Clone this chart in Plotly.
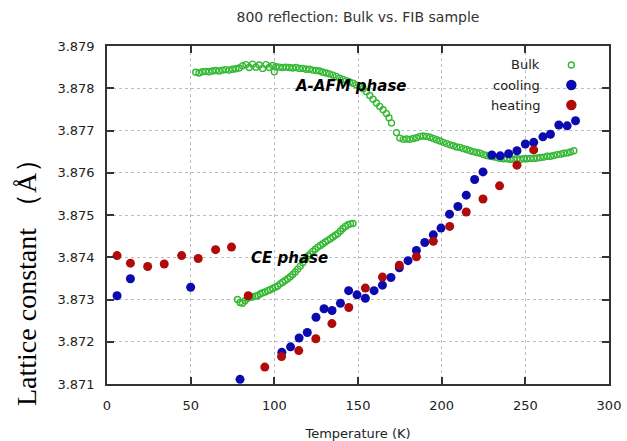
import plotly.graph_objects as go

# ---------------- data ----------------
bulk_T = [53, 55, 57, 59, 61, 63, 65, 67, 69, 71, 73, 75, 77, 79, 81, 83, 85, 87, 89, 91,
          93, 95, 97, 99, 100, 101, 103, 105, 107, 109, 111, 113, 115, 117, 119, 121, 123, 125,
          127, 129, 131, 133, 135, 137, 139, 141, 143, 145, 147, 149, 151, 153, 155, 157, 159,
          161, 163, 165, 167, 168.5, 170, 173, 175, 177, 179, 181, 183, 185, 187, 189, 191,
          193, 195, 197, 199, 201, 203, 205, 207, 209, 211, 213, 215, 217, 219, 221, 223, 225,
          227, 229, 231, 233, 235, 237, 239, 241, 243, 245, 247, 249, 251, 253, 255, 257, 259,
          261, 263, 265, 267, 269, 271, 273, 275, 277, 279]
bulk_V = [3.87838, 3.87836, 3.87839, 3.87840, 3.87839, 3.87841, 3.87842, 3.87841, 3.87843, 3.87844,
          3.87843, 3.87845, 3.87846, 3.87848, 3.87853, 3.87856, 3.87849, 3.87857, 3.87850, 3.87855,
          3.87847, 3.87856, 3.87849, 3.87854, 3.87839, 3.87851, 3.87850, 3.87849, 3.87850, 3.87849,
          3.87848, 3.87849, 3.87847, 3.87847, 3.87845, 3.87845, 3.87843, 3.87842, 3.87841, 3.87838,
          3.87836, 3.87834, 3.87831, 3.87828, 3.87824, 3.87821, 3.87818, 3.87815, 3.87812, 3.87808,
          3.87804, 3.87799, 3.87792, 3.87783, 3.87774, 3.87765, 3.87757, 3.87749, 3.87740, 3.87730,
          3.87718, 3.87695, 3.87682, 3.87679, 3.87680, 3.87679, 3.87681, 3.87683, 3.87686, 3.87687,
          3.87686, 3.87684, 3.87681, 3.87678, 3.87675, 3.87672, 3.87669, 3.87666, 3.87664, 3.87661,
          3.87660, 3.87657, 3.87655, 3.87652, 3.87650, 3.87648, 3.87646, 3.87643, 3.87641, 3.87639,
          3.87638, 3.87636, 3.87634, 3.87633, 3.87633, 3.87632, 3.87632, 3.87633, 3.87632, 3.87633,
          3.87633, 3.87634, 3.87634, 3.87635, 3.87636, 3.87637, 3.87639, 3.87639, 3.87641, 3.87643,
          3.87644, 3.87646, 3.87647, 3.87649, 3.87652]

ce_T = [78, 79.5, 81, 82.5, 84, 85.5, 87, 88.5, 90, 91.5, 93, 94.5, 96, 97.5, 99, 100.5, 102,
        103.5, 105, 106.5, 108, 109.5, 111, 112.5, 114, 115.5, 117, 118.5, 120, 121.5, 123,
        124.5, 126, 127.5, 129, 130.5, 132, 133.5, 135, 136.5, 138, 139.5, 141, 142.5, 144,
        145.5, 147]
ce_V = [3.87300, 3.87293, 3.87291, 3.87297, 3.87303, 3.87306, 3.87306, 3.87308, 3.87309, 3.87313,
        3.87316, 3.87318, 3.87321, 3.87323, 3.87326, 3.87329, 3.87332, 3.87337, 3.87341, 3.87345,
        3.87349, 3.87354, 3.87359, 3.87365, 3.87372, 3.87379, 3.87387, 3.87395, 3.87403, 3.87408,
        3.87414, 3.87419, 3.87424, 3.87428, 3.87432, 3.87436, 3.87440, 3.87444, 3.87448, 3.87452,
        3.87456, 3.87462, 3.87468, 3.87473, 3.87477, 3.87479, 3.87480]

cool_T = [6, 14, 50, 79.5, 104.5, 109.7, 114.8, 119.7, 124.9, 129.7, 134.5, 139.5, 144.4, 149.4,
          154.4, 159.6, 164.6, 169.7, 174.7, 179.9, 184.9, 189.9, 195, 199.6, 204.7, 209.7, 214.7,
          219.7, 224.7, 230, 235, 240, 245, 250, 255, 260.5, 265, 270, 275, 280]
cool_V = [3.87309, 3.87349, 3.87329, 3.87111, 3.87175, 3.87188, 3.87209, 3.87222, 3.87258, 3.87278,
          3.87274, 3.87291, 3.87321, 3.87311, 3.87303, 3.87321, 3.87334, 3.87352, 3.87375, 3.87392,
          3.87416, 3.87435, 3.87453, 3.87469, 3.87502, 3.87520, 3.87547, 3.87584, 3.87602, 3.87642,
          3.87640, 3.87645, 3.87652, 3.87668, 3.87672, 3.87685, 3.87691, 3.87713, 3.87711, 3.87723]

heat_T = [6, 14, 24.3, 34.2, 44.6, 54.5, 64.9, 74.4, 84.4, 94.3, 104.3, 114.6, 124.8, 134.4,
          144.5, 154.4, 164.6, 174.7, 184.9, 195, 204.8, 214.7, 224.7, 234.6, 245, 255]
heat_V = [3.87404, 3.87386, 3.87378, 3.87384, 3.87404, 3.87397, 3.87418, 3.87424, 3.87309, 3.87140,
          3.87165, 3.87179, 3.87207, 3.87243, 3.87281, 3.87327, 3.87353, 3.87381, 3.87401, 3.87438,
          3.87473, 3.87507, 3.87538, 3.87569, 3.87618, 3.87654]

series_names = ["Bulk", "cooling", "heating"]
x_ticks = [0, 50, 100, 150, 200, 250, 300]
y_ticks = [3.871, 3.872, 3.873, 3.874, 3.875, 3.876, 3.877, 3.878, 3.879]

# ---------------- style ----------------
GREEN = "#35b835"
BLUE = "#0a0ab0"
RED = "#b00a0a"
AX = "#333333"
TXT = "#222222"
FONT = "DejaVu Sans"

fig = go.Figure()
bulk_style = dict(mode="markers", showlegend=False,
                  marker=dict(symbol="circle-open", size=6, color=GREEN, line=dict(width=1.4, color=GREEN)))
fig.add_trace(go.Scatter(x=bulk_T, y=bulk_V, name=series_names[0], **bulk_style))
fig.add_trace(go.Scatter(x=ce_T, y=ce_V, name=series_names[0], **bulk_style))
fig.add_trace(go.Scatter(x=cool_T, y=cool_V, name=series_names[1], mode="markers", showlegend=False,
                         marker=dict(symbol="circle", size=9, color=BLUE)))
fig.add_trace(go.Scatter(x=heat_T, y=heat_V, name=series_names[2], mode="markers", showlegend=False,
                         marker=dict(symbol="circle", size=9, color=RED)))

axis_common = dict(showline=True, linecolor=AX, linewidth=1.5, mirror="ticks", ticks="inside",
                   ticklen=7, tickwidth=1.5, tickcolor=AX, showgrid=True, gridcolor="#bdbdbd",
                   griddash="dot", gridwidth=1, zeroline=False, automargin=False,
                   tickfont=dict(family=FONT, size=13, color=TXT))

fig.update_xaxes(range=[0, 300], tickvals=x_ticks, ticktext=[str(v) for v in x_ticks],
                 ticklabelstandoff=9,
                 title=dict(text="Temperature (K)", font=dict(family=FONT, size=13, color=TXT), standoff=17),
                 **axis_common)
fig.update_yaxes(range=[3.871, 3.879], tickvals=y_ticks, ticktext=[f"{v:.3f}" for v in y_ticks],
                 ticklabelstandoff=8, **axis_common)

annotations = [
    dict(text="A-AFM phase", x=145.8, y=3.87805, xref="x", yref="y", showarrow=False,
         xanchor="center", yanchor="middle",
         font=dict(family=FONT, size=15, color="black", weight="bold", style="italic")),
    dict(text="CE phase", x=108.8, y=3.87398, xref="x", yref="y", showarrow=False,
         xanchor="center", yanchor="middle",
         font=dict(family=FONT, size=15, color="black", weight="bold", style="italic")),
    dict(text="Lattice constant （Å）", textangle=-90, x=-0.159, y=0.32, xref="paper", yref="paper",
         xanchor="center", yanchor="middle",
         showarrow=False, font=dict(family="Liberation Serif", size=28, color="black")),
]
# manual legend: text right, key marker on the right (gnuplot style)
legend_colors = [GREEN, BLUE, RED]
legend_symbols = ["circle-open", "circle", "circle"]
for i, name in enumerate(series_names):
    yy = 1 - (19 + 20 * i) / 338
    annotations.append(dict(text=name, x=0.866, y=yy, xref="paper", yref="paper", xanchor="right",
                            yanchor="middle", showarrow=False,
                            font=dict(family=FONT, size=13, color=TXT)))

fig.update_layout(
    width=627, height=441,
    margin=dict(l=107, r=18, t=46, b=57, autoexpand=False),
    paper_bgcolor="white", plot_bgcolor="white",
    title=dict(text="800 reflection: Bulk vs. FIB sample", x=(107 + 609) / 2 / 627, xanchor="center",
               y=1 - 17 / 441, yanchor="middle", font=dict(family=FONT, size=14, color="#333333")),
    annotations=annotations,
)

# legend key markers drawn on a hidden overlay axis in paper space
fig.add_trace(go.Scatter(
    x=[0.925] * 3, y=[1 - (19 + 20 * i) / 338 for i in range(3)],
    xaxis="x2", yaxis="y2", mode="markers", showlegend=False, hoverinfo="skip",
    marker=dict(symbol=legend_symbols, size=[6, 9, 9], color=legend_colors, opacity=1,
                line=dict(width=1.4, color=legend_colors))))
fig.update_layout(
    xaxis2=dict(overlaying="x", range=[0, 1], visible=False, fixedrange=True),
    yaxis2=dict(overlaying="y", range=[0, 1], visible=False, fixedrange=True),
)

fig.write_html("out.html", config={"displayModeBar": False},
               post_script="document.body.style.margin='0';")
